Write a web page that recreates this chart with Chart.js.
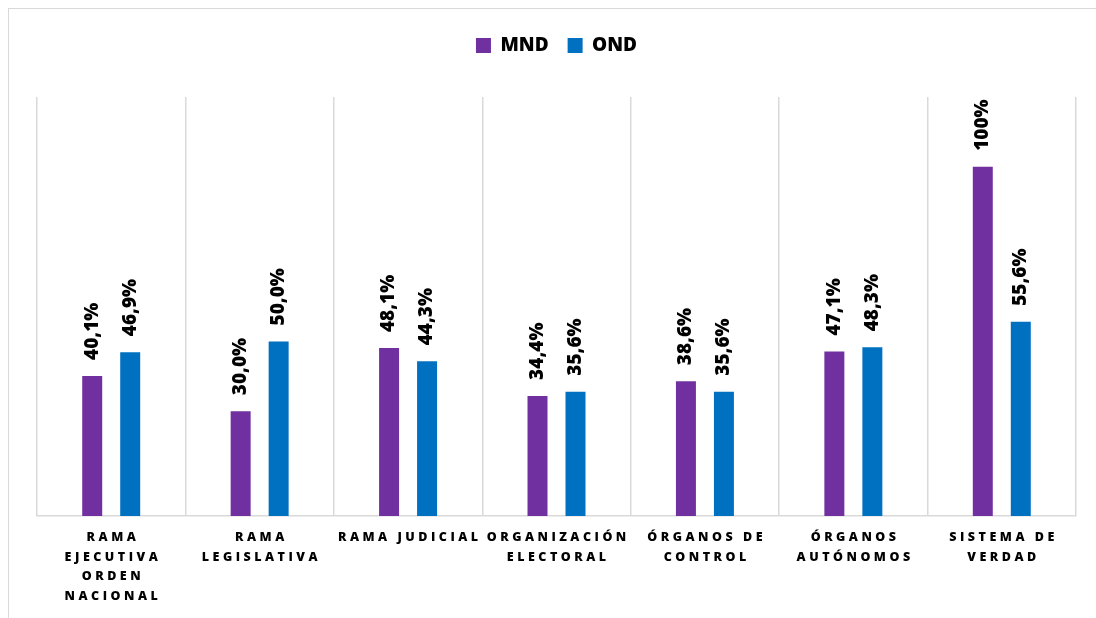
<!DOCTYPE html>
<html>
<head>
<meta charset="utf-8">
<script src="https://cdn.jsdelivr.net/npm/chart.js@4"></script>
<style>
	body { margin: 0; background: #fff; overflow: hidden; }
	#frame { position: absolute; left: 8px; top: 8px; width: 1200px; height: 700px; border: 1px solid #d9d9d9; }
	#myChart { position: absolute; left: 0; top: 0; }
</style>
</head>
<body>
<div id="frame"></div>
<canvas id="myChart" width="1096" height="618"></canvas>
<script>
	// Datos
	var categories = [
		['RAMA', 'EJECUTIVA', 'ORDEN', 'NACIONAL'],
		['RAMA', 'LEGISLATIVA'],
		'RAMA JUDICIAL',
		['ORGANIZACIÓN', 'ELECTORAL'],
		['ÓRGANOS DE', 'CONTROL'],
		['ÓRGANOS', 'AUTÓNOMOS'],
		['SISTEMA DE', 'VERDAD']
	];
	var mnd = [40.1, 30.0, 48.1, 34.4, 38.6, 47.1, 100];
	var ond = [46.9, 50.0, 44.3, 35.6, 35.6, 48.3, 55.6];

	var font = '"Open Sans"';

	function fmt(v) {
		if (v === 100) return '100%';
		return v.toFixed(1).replace('.', ',') + '%';
	}

	// Etiquetas de valor giradas sobre cada barra
	var valueLabels = {
		id: 'valueLabels',
		afterDatasetsDraw: function(chart) {
			var ctx = chart.ctx;
			ctx.save();
			ctx.font = '800 19px ' + font;
			ctx.fillStyle = '#000';
			ctx.textAlign = 'left';
			ctx.textBaseline = 'middle';
			chart.data.datasets.forEach(function(ds, i) {
				chart.getDatasetMeta(i).data.forEach(function(bar, j) {
					ctx.save();
					ctx.translate(bar.x, bar.y - 16);
					ctx.rotate(-Math.PI / 2);
					ctx.fillText(fmt(ds.data[j]), 0, 0);
					ctx.restore();
				});
			});
			ctx.restore();
		}
	};

	// Espaciado de letras en el eje x
	var spacedTicks = {
		id: 'spacedTicks',
		beforeDraw: function(chart) {
			var xs = chart.scales.x;
			if (xs._spaced) return;
			var orig = xs.drawLabels;
			xs.drawLabels = function(area) {
				this.ctx.save();
				this.ctx.letterSpacing = '3.5px';
				this.ctx.translate(1.75, 0);
				orig.call(this, area);
				this.ctx.restore();
			};
			xs._spaced = true;
		}
	};

	// Espacio entre la leyenda y el área del gráfico
	var legendGap = {
		id: 'legendGap',
		beforeLayout: function(chart) {
			var lg = chart.legend;
			if (!lg || lg._gap) return;
			var fit = lg.fit;
			lg.fit = function() {
				fit.call(this);
				this.height += 32;
			};
			lg._gap = true;
		}
	};

	var ctx = document.getElementById('myChart').getContext('2d');
	var myChart = new Chart(ctx, {
		type: 'bar',
		data: {
			labels: categories,
			datasets: [
				{
					label: 'MND',
					data: mnd,
					backgroundColor: '#7030A0',
					borderWidth: 0,
					categoryPercentage: 0.512,
					barPercentage: 0.526
				},
				{
					label: 'OND',
					data: ond,
					backgroundColor: '#0070C0',
					borderWidth: 0,
					categoryPercentage: 0.512,
					barPercentage: 0.526
				}
			]
		},
		options: {
			responsive: false,
			animation: false,
			layout: {
				padding: { left: 37, right: 20, top: 17, bottom: 0 }
			},
			plugins: {
				tooltip: { enabled: false },
				legend: {
					position: 'top',
					labels: {
						boxWidth: 15,
						boxHeight: 15,
						padding: 19,
						color: '#000',
						font: { family: font, size: 19, weight: '800' }
					}
				}
			},
			scales: {
				x: {
					afterFit: function(scale) {
						scale.height = 102;
					},
					grid: {
						color: '#d9d9d9',
						lineWidth: 1.5,
						drawTicks: false,
						offset: true
					},
					border: { color: '#d9d9d9', width: 1.5 },
					ticks: {
						color: '#000',
						padding: 12,
						maxRotation: 0,
						autoSkip: false,
						font: { family: font, size: 12.5, weight: '800', lineHeight: 1.56 }
					}
				},
				y: {
					display: false,
					min: 0,
					max: 120
				}
			}
		},
		plugins: [valueLabels, spacedTicks, legendGap]
	});
</script>
</body>
</html>
